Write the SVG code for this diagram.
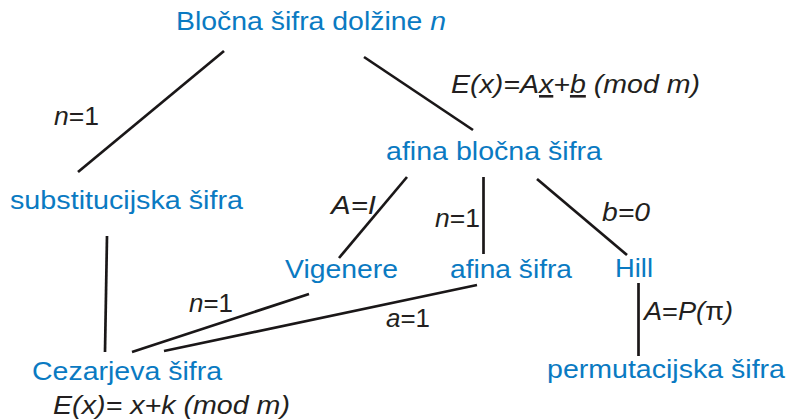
<svg xmlns="http://www.w3.org/2000/svg" width="789" height="420" viewBox="0 0 789 420">
<style>
.n{font-family:"Liberation Sans",Arial,sans-serif;font-size:26px;fill:#0A7AC2}
.l{font-family:"Liberation Sans",Arial,sans-serif;font-size:26px;fill:#231F20}
.i{font-style:italic}
.c line{stroke:#1A1718;stroke-width:2.7;stroke-linecap:butt}
</style>
<rect width="789" height="420" fill="#FFFFFF"/>
<g class="c" id="connectors">
<line x1="224" y1="51" x2="78" y2="172"/>
<line x1="364" y1="57" x2="473" y2="130"/>
<line x1="107" y1="236" x2="105" y2="352"/>
<line x1="407" y1="177" x2="339" y2="258"/>
<line x1="483.5" y1="177" x2="483.5" y2="254"/>
<line x1="537" y1="179" x2="627" y2="255"/>
<line x1="638.5" y1="283" x2="638.5" y2="356"/>
<line x1="309" y1="294" x2="132" y2="352"/>
<line x1="477" y1="285" x2="164" y2="351"/>
</g>
<g id="labels">
<text class="l i" x="451" y="93" textLength="249" lengthAdjust="spacingAndGlyphs">E(x)=A<tspan text-decoration="underline">x</tspan>+<tspan text-decoration="underline">b</tspan> (mod m)</text>
<text class="l" x="54" y="125" textLength="45" lengthAdjust="spacingAndGlyphs"><tspan class="i">n</tspan>=1</text>
<text class="l i" x="331" y="214" textLength="45" lengthAdjust="spacingAndGlyphs">A=I</text>
<text class="l" x="435" y="227" textLength="45" lengthAdjust="spacingAndGlyphs"><tspan class="i">n</tspan>=1</text>
<text class="l i" x="602" y="221" textLength="48" lengthAdjust="spacingAndGlyphs">b=0</text>
<text class="l" x="189" y="312" textLength="44" lengthAdjust="spacingAndGlyphs"><tspan class="i">n</tspan>=1</text>
<text class="l" x="386" y="327" textLength="44" lengthAdjust="spacingAndGlyphs"><tspan class="i">a</tspan>=1</text>
<text class="l" x="644" y="320" textLength="89" lengthAdjust="spacingAndGlyphs"><tspan class="i">A</tspan>=<tspan class="i">P(</tspan>π<tspan class="i">)</tspan></text>
<text class="l i" x="53" y="414" textLength="237" lengthAdjust="spacingAndGlyphs">E(x)= x+k (mod m)</text>
</g>
<g id="root"><text class="n" x="176" y="30" textLength="270" lengthAdjust="spacingAndGlyphs">Bločna šifra dolžine <tspan class="i">n</tspan></text></g>
<g id="substitucijska"><text class="n" x="10" y="209" textLength="233" lengthAdjust="spacingAndGlyphs">substitucijska šifra</text></g>
<g id="afina-blocna"><text class="n" x="386" y="160" textLength="216" lengthAdjust="spacingAndGlyphs">afina bločna šifra</text></g>
<g id="vigenere"><text class="n" x="285" y="278" textLength="113" lengthAdjust="spacingAndGlyphs">Vigenere</text></g>
<g id="afina"><text class="n" x="450" y="278" textLength="122" lengthAdjust="spacingAndGlyphs">afina šifra</text></g>
<g id="hill"><text class="n" x="615" y="277" textLength="38" lengthAdjust="spacingAndGlyphs">Hill</text></g>
<g id="cezarjeva"><text class="n" x="32" y="380" textLength="190" lengthAdjust="spacingAndGlyphs">Cezarjeva šifra</text></g>
<g id="permutacijska"><text class="n" x="547" y="378" textLength="238" lengthAdjust="spacingAndGlyphs">permutacijska šifra</text></g>
</svg>
